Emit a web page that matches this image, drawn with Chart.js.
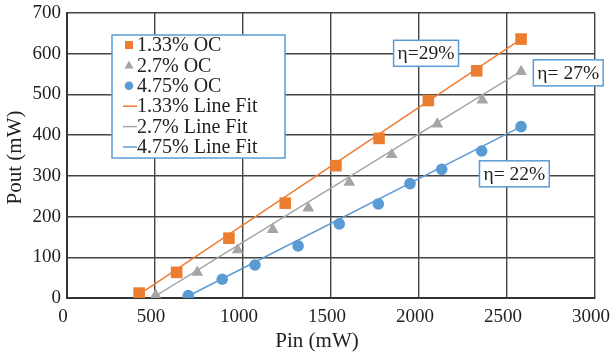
<!DOCTYPE html>
<html>
<head>
<meta charset="utf-8">
<script src="https://cdn.jsdelivr.net/npm/chart.js@4.4.0/dist/chart.umd.min.js"></script>
<style>
  html, body { margin: 0; padding: 0; background: #fff; }
  #wrap { position: relative; width: 611px; height: 356px; }
</style>
</head>
<body>
<div id="wrap"><canvas id="effChart" width="611" height="356"></canvas></div>
<script>
// measured points (Pin, Pout in mW)
const pin133 = [410, 623, 920, 1240, 1528, 1773, 2053, 2328, 2580];
const pout133 = [12, 63, 147, 233, 325, 392, 485, 558, 636];
const pin27 = [504, 740, 970, 1169, 1371, 1604, 1845, 2104, 2360, 2580];
const pout27 = [7, 63, 118, 168, 221, 284, 352, 427, 486, 556];
const pin475 = [689, 882, 1068, 1313, 1547, 1769, 1949, 2129, 2356, 2580];
const pout475 = [6, 46, 81, 128, 182, 231, 281, 316, 361, 421];

// line fit end points
const fitPin133 = [410, 2580];
const fitPout133 = [9, 636];
const fitPin27 = [504, 2580];
const fitPout27 = [5, 557];
const fitPin475 = [689, 2580];
const fitPout475 = [5, 421];

const seriesNames = ["1.33% OC", "2.7% OC", "4.75% OC", "1.33% Line Fit", "2.7% Line Fit", "4.75% Line Fit"];

// efficiency labels: text, Pin, Pout of box centre
const etaText = ["η=29%", "η= 27%", "η= 22%"];
const etaPin = [2040, 2848, 2542];
const etaPout = [601, 553, 305];

const ORANGE = "#ED7D31";
const GRAY = "#A5A5A5";
const BLUE = "#5B9BD5";
const SERIF = "'Liberation Serif', 'DejaVu Serif', serif";

function zip(xs, ys) {
  return xs.map((x, i) => ({ x: x, y: ys[i] }));
}

const overlayPlugin = {
  id: "overlay",
  afterDraw(chart) {
    const ctx = chart.ctx;
    const area = chart.chartArea;
    const xs = chart.scales.x;
    const ys = chart.scales.y;
    ctx.save();

    // axis titles
    ctx.fillStyle = "#222";
    ctx.font = "21px " + SERIF;
    ctx.textAlign = "center";
    ctx.textBaseline = "middle";
    ctx.fillText("Pin (mW)", 317, 341);
    ctx.save();
    ctx.translate(15, (area.top + area.bottom) / 2 + 2);
    ctx.rotate(-Math.PI / 2);
    ctx.fillText("Pout (mW)", 0, 0);
    ctx.restore();

    // eta boxes
    ctx.font = "19.5px " + SERIF;
    etaText.forEach((t, i) => {
      const cx = xs.getPixelForValue(etaPin[i]);
      const cy = ys.getPixelForValue(etaPout[i]);
      const w = ctx.measureText(t).width + 8;
      const h = 26;
      ctx.fillStyle = "#fff";
      ctx.fillRect(cx - w / 2, cy - h / 2, w, h);
      ctx.strokeStyle = BLUE;
      ctx.lineWidth = 1.5;
      ctx.strokeRect(cx - w / 2, cy - h / 2, w, h);
      ctx.fillStyle = "#222";
      ctx.fillText(t, cx, cy + 1);
    });

    // legend box
    const bx = area.left + 45;
    const by = area.top + 22;
    const bw = 173;
    const bh = 123;
    ctx.fillStyle = "#fff";
    ctx.fillRect(bx, by, bw, bh);
    ctx.strokeStyle = BLUE;
    ctx.lineWidth = 1.5;
    ctx.strokeRect(bx, by, bw, bh);

    const colors = [ORANGE, GRAY, BLUE, ORANGE, GRAY, BLUE];
    ctx.textAlign = "left";
    ctx.font = "20px " + SERIF;
    seriesNames.forEach((name, i) => {
      const ry = by + 10 + i * 20.4;
      const mx = bx + 17;
      ctx.fillStyle = colors[i];
      ctx.strokeStyle = colors[i];
      if (i === 0) {
        ctx.fillRect(mx - 4, ry - 4, 8, 8);
      } else if (i === 1) {
        ctx.beginPath();
        ctx.moveTo(mx, ry - 5);
        ctx.lineTo(mx + 4.5, ry + 3);
        ctx.lineTo(mx - 4.5, ry + 3);
        ctx.closePath();
        ctx.fill();
      } else if (i === 2) {
        ctx.beginPath();
        ctx.arc(mx, ry, 4.3, 0, Math.PI * 2);
        ctx.fill();
      } else {
        ctx.lineWidth = 1.5;
        ctx.beginPath();
        ctx.moveTo(mx - 6, ry);
        ctx.lineTo(mx + 8, ry);
        ctx.stroke();
      }
      ctx.fillStyle = "#222";
      ctx.fillText(name, bx + 25, ry + 1);
    });

    ctx.restore();
  }
};

new Chart(document.getElementById("effChart").getContext("2d"), {
  type: "scatter",
  data: {
    datasets: [
      {
        label: seriesNames[3],
        data: zip(fitPin133, fitPout133),
        showLine: true,
        borderColor: ORANGE,
        borderWidth: 1.5,
        pointRadius: 0,
      },
      {
        label: seriesNames[4],
        data: zip(fitPin27, fitPout27),
        showLine: true,
        borderColor: GRAY,
        borderWidth: 1.5,
        pointRadius: 0,
      },
      {
        label: seriesNames[5],
        data: zip(fitPin475, fitPout475),
        showLine: true,
        borderColor: BLUE,
        borderWidth: 1.5,
        pointRadius: 0,
      },
      {
        label: seriesNames[0],
        data: zip(pin133, pout133),
        pointStyle: "rect",
        pointRadius: 8.2,
        backgroundColor: ORANGE,
        borderColor: ORANGE,
        borderWidth: 0,
      },
      {
        label: seriesNames[1],
        data: zip(pin27, pout27),
        pointStyle: "triangle",
        pointRadius: 6.8,
        backgroundColor: GRAY,
        borderColor: GRAY,
        borderWidth: 0,
      },
      {
        label: seriesNames[2],
        data: zip(pin475, pout475),
        pointStyle: "circle",
        pointRadius: 5.8,
        backgroundColor: BLUE,
        borderColor: BLUE,
        borderWidth: 0,
      },
    ],
  },
  options: {
    responsive: false,
    animation: false,
    layout: {
      padding: { top: 13, right: 16, left: 0, bottom: 0 },
    },
    scales: {
      x: {
        type: "linear",
        min: 0,
        max: 3000,
        ticks: {
          stepSize: 500,
          padding: 8,
          labelOffset: -4,
          maxRotation: 0,
          color: "#222",
          font: { family: SERIF, size: 19 },
          callback: (v) => String(v),
        },
        grid: { color: "#444", lineWidth: 1.4, drawTicks: false },
        border: { color: "#333", width: 2 },
        afterFit(scale) {
          scale.height = 58;
          scale.paddingLeft = 0;
          scale.paddingRight = 0;
        },
      },
      y: {
        type: "linear",
        min: 0,
        max: 700,
        ticks: {
          stepSize: 100,
          padding: 6,
          color: "#222",
          font: { family: SERIF, size: 19 },
          callback: (v) => String(v),
        },
        grid: { color: "#444", lineWidth: 1.4, drawTicks: false },
        border: { color: "#333", width: 2 },
        afterFit(scale) {
          scale.width = 67;
          scale.paddingTop = 0;
          scale.paddingBottom = 0;
        },
      },
    },
    plugins: {
      legend: { display: false },
      tooltip: { enabled: false },
    },
  },
  plugins: [overlayPlugin],
});
</script>
</body>
</html>
